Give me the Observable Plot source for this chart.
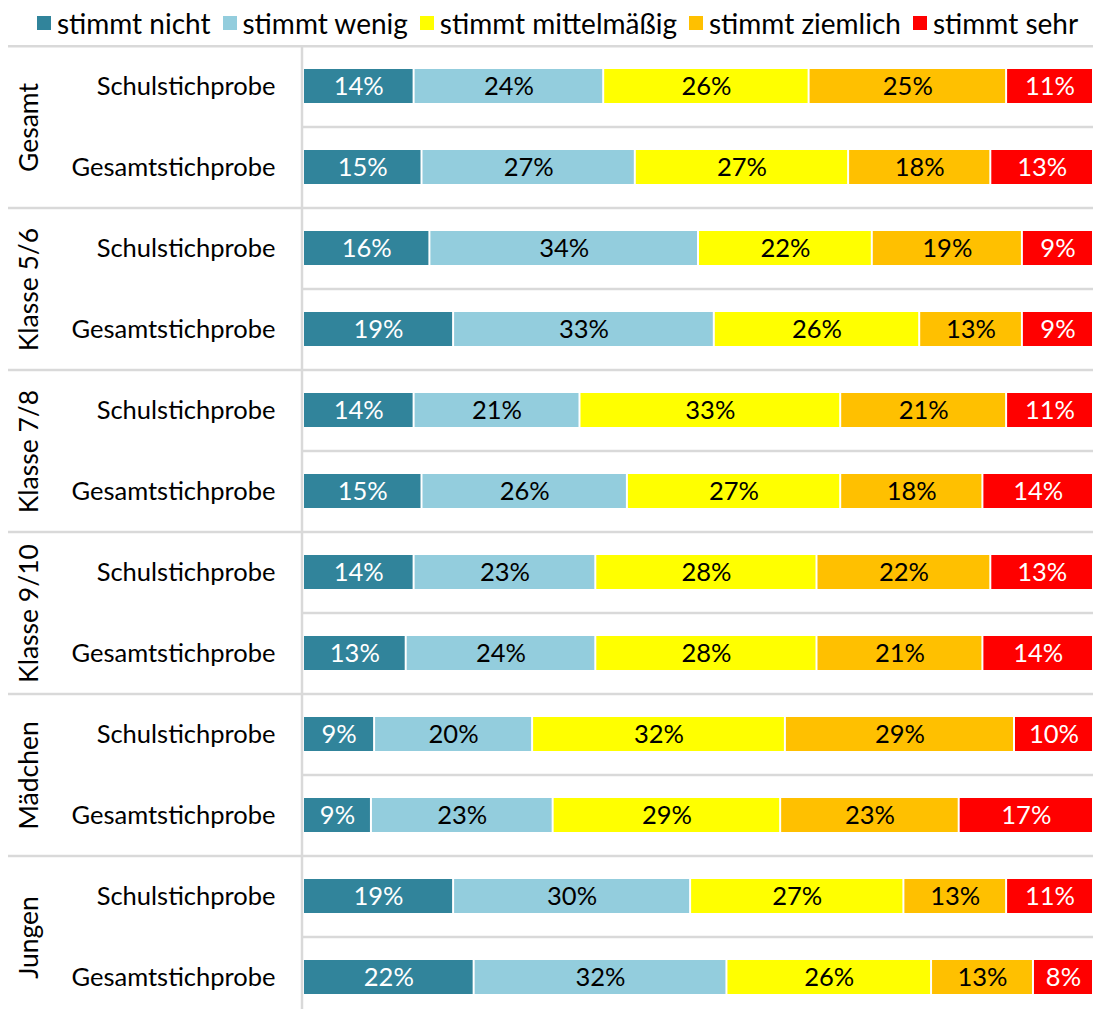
<!DOCTYPE html>
<html>
<head>
<meta charset="utf-8">
<script src="https://cdn.jsdelivr.net/npm/d3@7"></script>
<script src="https://cdn.jsdelivr.net/npm/@observablehq/plot@0.6"></script>
<style>
  html, body { margin: 0; padding: 0; background: white; overflow: hidden; }
  #legend { height: 45px; display: flex; align-items: center; justify-content: center; font-family: Lato, sans-serif; font-size: 28px; color: #000; gap: 12px; padding-left: 22px; box-sizing: border-box; }
  #legend .item { display: flex; align-items: center; }
  #legend .sw { width: 14px; height: 14px; margin-right: 6px; }
</style>
</head>
<body>
<div id="legend"></div>
<div id="chart"></div>
<script>
const groups = ["Gesamt", "Klasse 5/6", "Klasse 7/8", "Klasse 9/10", "Mädchen", "Jungen"];
const samples = ["Schulstichprobe", "Gesamtstichprobe"];
const categories = ["stimmt nicht", "stimmt wenig", "stimmt mittelmäßig", "stimmt ziemlich", "stimmt sehr"];
const colors = ["#31849b", "#93cddd", "#ffff00", "#ffc000", "#ff0000"];
const whiteText = ["stimmt nicht", "stimmt sehr"];

// one value per row (group × sample), in row order
const stimmtNicht      = [14, 15, 16, 19, 14, 15, 14, 13, 9, 8.6, 19, 21.6];
const stimmtWenig      = [24, 27, 34, 33, 21, 26, 23, 24, 20, 23.0, 30, 32.0];
const stimmtMittel     = [26, 27, 22, 26, 33, 27, 28, 28, 32, 28.8, 27, 25.9];
const stimmtZiemlich   = [25, 18, 19, 13, 21, 18, 22, 21, 29, 22.6, 13, 12.9];
const stimmtSehr       = [11, 13, 9, 9, 11, 14, 13, 14, 10, 17.0, 11, 7.6];
const series = [stimmtNicht, stimmtWenig, stimmtMittel, stimmtZiemlich, stimmtSehr];

const rows = groups.flatMap((g, gi) => samples.map((s, si) => ({group: g, sample: s, i: gi * 2 + si})));
const data = rows.flatMap(r => categories.map((c, ci) => ({group: r.group, sample: r.sample, cat: c, value: series[ci][r.i]})));

// legend
const legend = d3.select("#legend");
categories.forEach((c, i) => {
  const it = legend.append("div").attr("class", "item");
  it.append("div").attr("class", "sw").style("background", colors[i]);
  it.append("span").text(c);
});

const W = 1093, H = 973;
const FS = 25.5;
const chart = Plot.plot({
  width: W,
  height: H,
  marginLeft: 303,
  marginRight: 0,
  marginTop: 0,
  marginBottom: 0,
  x: {domain: [0, 100], axis: null},
  y: {domain: samples, paddingInner: 0.58, paddingOuter: 0.29, label: null},
  fy: {domain: groups, padding: 0, axis: null, label: null},
  color: {domain: categories, range: colors},
  style: {fontFamily: "Lato, sans-serif", fontSize: FS + "px", color: "#000", background: "white", overflow: "visible"},
  marks: [
    Plot.axisY({tickSize: 0, tickPadding: 28, label: null, fontSize: FS, fill: "#000"}),
    Plot.barX(data, Plot.stackX({x: "value", y: "sample", fy: "group", fill: "cat", insetLeft: 1, insetRight: 1})),
    Plot.text(data, Plot.stackX({
      x: "value", y: "sample", fy: "group", z: "cat",
      text: d => Math.round(d.value) + "%",
      fill: {value: d => whiteText.includes(d.cat) ? "white" : "black", scale: null},
      fontSize: FS
    })),
    Plot.text(groups, {fy: d => d, text: d => d, frameAnchor: "left", dx: -274, rotate: -90, textAnchor: "middle", fontSize: FS + 1, fill: "#000"})
  ]
});

document.getElementById("chart").appendChild(chart);

// separator lines drawn from the facet scale
const fy = chart.scale("fy");
const svg = d3.select(chart);
const grid = svg.insert("g", ":first-child").attr("stroke", "#d9d9d9").attr("stroke-width", 2.5);
groups.forEach(g => {
  const y0 = fy.apply(g);
  grid.append("line").attr("x1", 8).attr("x2", W).attr("y1", Math.max(y0, 1.2)).attr("y2", Math.max(y0, 1.2));
  const ym = y0 + fy.bandwidth / 2;
  grid.append("line").attr("x1", 302).attr("x2", W).attr("y1", ym).attr("y2", ym);
});
grid.append("line").attr("x1", 302).attr("x2", 302).attr("y1", 0).attr("y2", H);
</script>
</body>
</html>
